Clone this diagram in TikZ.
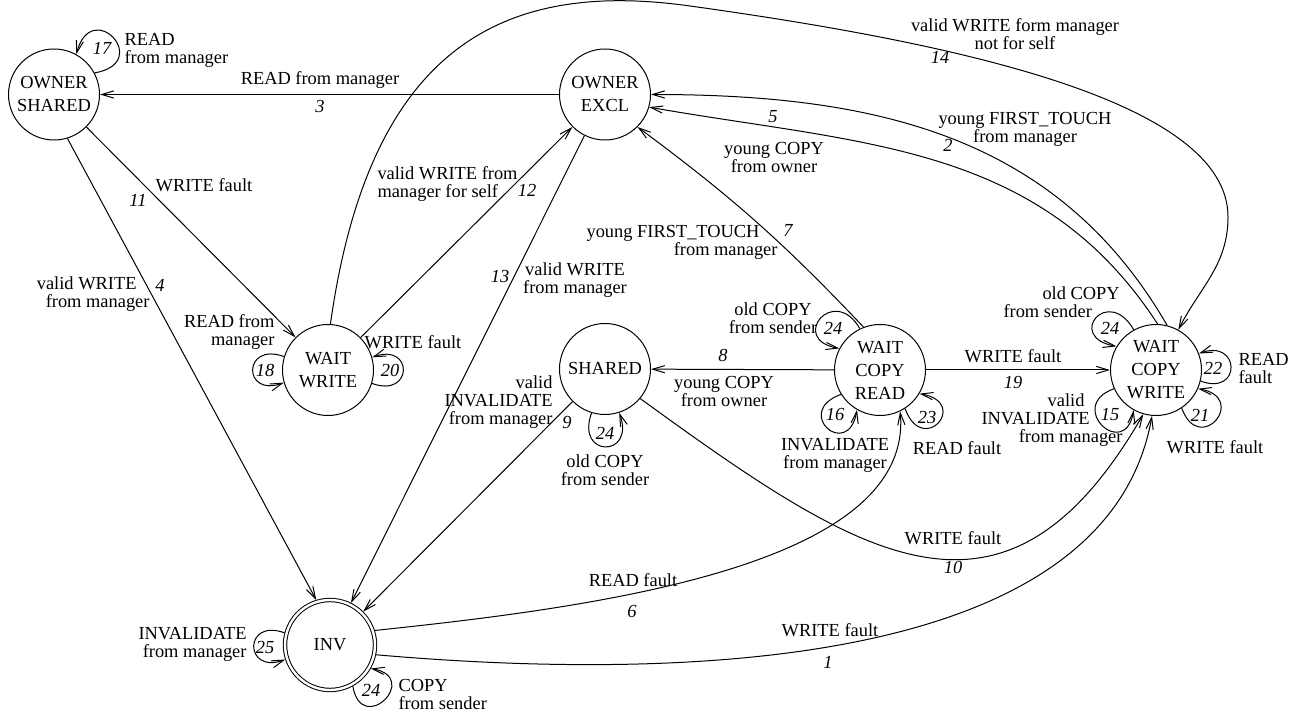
\documentclass[tikz,border=0pt]{standalone}
\usepackage{fontspec}
\setmainfont{Liberation Serif}
\usepackage{tikz}
\usetikzlibrary{arrows.meta}

\begin{document}
\begin{tikzpicture}[x=0.5pt, y=0.5pt, line width=0.5pt,
    state/.style={circle, draw, minimum size=45.5pt, inner sep=0pt, align=center,
        font=\fontsize{9.2}{11.5}\selectfont},
    arr/.style={-{Straight Barb[length=6pt, width=3.6pt]}},
    lbl/.style={inner sep=0pt, font=\fontsize{9.2}{9}\selectfont},
    num/.style={inner sep=0pt, font=\fontsize{9.2}{9}\selectfont\itshape},
    selfloop/.style={distance=24pt}]
    \useasboundingbox (0,0) rectangle (1296,717);

    % States
    \node[state] (os) at (54,622.5) {OWNER\\SHARED};
    \node[state] (oe) at (605,622.5) {OWNER\\EXCL};
    \node[state] (ww) at (328,347) {WAIT\\WRITE};
    \node[state] (sh) at (605,348) {SHARED};
    \node[state] (wcr) at (880,347) {WAIT\\COPY\\READ};
    \node[state] (wcw) at (1156,347) {WAIT\\COPY\\WRITE};
    \node[state, double, double distance=1.2pt, minimum size=45pt, outer sep=1pt] (inv) at (330,72) {INV};

    % Self loops
    \draw[arr] (os.28) to[out=10, in=75, distance=30pt] (os.61);
    \draw[arr] (ww.163) to[out=160, in=200, distance=22pt] (ww.196);
    \draw[arr] (ww.-17) to[out=-20, in=20, distance=22pt] (ww.16);
    \draw[arr] (sh.-107) to[out=-110, in=-70, selfloop] (sh.-72);
    \draw[arr] (wcr.116) to[out=120, in=170, distance=26pt] (wcr.152);
    \draw[arr] (wcr.212) to[out=200, in=260, distance=26pt] (wcr.240);
    \draw[arr] (wcr.-57) to[out=-70, in=-10, distance=26pt] (wcr.-31);
    \draw[arr] (wcw.119) to[out=120, in=170, distance=26pt] (wcw.149);
    \draw[arr] (wcw.-14) to[out=-20, in=20, distance=22pt] (wcw.21);
    \draw[arr] (wcw.-56) to[out=-70, in=-10, distance=26pt] (wcw.-24);
    \draw[arr] (wcw.204) to[out=200, in=260, distance=26pt] (wcw.241);
    \draw[arr] (inv.165) to[out=160, in=200, distance=22pt] (inv.198);
    \draw[arr] (inv.-61) to[out=-80, in=-10, distance=26pt] (inv.-30);

    % Straight transitions
    \draw[arr] (oe) -- (os);
    \draw[arr] (os) -- (ww);
    \draw[arr] (os.-73) -- (inv.107);
    \draw[arr] (ww) -- (oe);
    \draw[arr] (oe) -- (inv);
    \draw[arr] (sh) -- (inv);
    \draw[arr] (wcr) -- (sh);
    \draw[arr] (wcr) -- (wcw);

    % Curved transitions
    \coordinate (c14) at (690,711);
    \coordinate (c14r) at (1228,500);
    \draw[arr] (wcr.111) to[bend right=5] (oe.-45);
    \draw[arr] (wcw.88) to[out=123, in=-10] (oe.-16);
    \draw[arr] (wcw.76) to[out=120, in=0] (oe.0);
    \draw[arr] (ww.87) to[out=82, in=172, out looseness=1.5] (c14)
        .. controls (956,674) and (1228,616) .. (c14r)
        to[out=-90, in=63] (wcw.61);
    \draw[arr] (sh.-40) to[out=-36, in=240, looseness=1.4] (wcw.254);
    \draw[arr] (inv.18) to[out=6, in=-85, in looseness=0.7] (wcr.-64);
    \draw[arr] (inv.-12) to[out=-5, in=-100, in looseness=0.8] (wcw.265);

    % Labels
    \node[lbl] (t3) at (320,637) {READ from manager};
    \node[num] (n3) at (320,610) {3};
    \node[lbl, anchor=west, align=left] (t17) at (124,667) {READ\\from manager};
    \node[num] (n17) at (102,669) {17};
    \node[lbl] (t11) at (204,532) {WRITE fault};
    \node[num] (n11) at (138,517) {11};
    \node[lbl, anchor=east, align=right] (t4) at (150,423) {valid WRITE\hspace*{6.5pt}\\from manager};
    \node[num] (n4) at (160,432) {4};
    \node[lbl, anchor=west, align=left] (t12) at (377,533) {valid WRITE from\\manager for self};
    \node[num] (n12) at (527,527) {12};
    \node[lbl, align=center] (t13) at (575,437) {valid WRITE\\from manager};
    \node[num] (n13) at (500,440) {13};
    \node[lbl, anchor=east, align=right] (t9) at (553,315) {valid\\INVALIDATE\hspace*{-7pt}\\from manager};
    \node[num] (n9) at (567,294) {9};
    \node[lbl, align=center] (t24s) at (605,247) {old COPY\\from sender};
    \node[num] (n24s) at (605,284) {24};
    \node[lbl, align=center] (t8) at (724,325) {young COPY\\from owner};
    \node[num] (n8) at (723,362) {8};
    \node[lbl, anchor=east, align=right] (t7) at (778,475) {young FIRST\_TOUCH\hspace*{9pt}\\from manager};
    \node[num] (n7) at (788,487) {7};
    \node[lbl, align=center] (t5) at (774,559) {young COPY\\from owner};
    \node[num] (n5) at (773,600) {5};
    \node[lbl, align=center] (t2) at (1025,588) {young FIRST\_TOUCH\\from manager};
    \node[num] (n2) at (948,572) {2};
    \node[lbl, align=center] (t14) at (1015,683) {valid WRITE form manager\\not for self};
    \node[num] (n14) at (940,660) {14};
    \node[lbl, anchor=east, align=right] (t18) at (275,385) {READ from\\manager};
    \node[num] (n18) at (265,347) {18};
    \node[lbl] (t20) at (413,375) {WRITE fault};
    \node[num] (n20) at (390,347) {20};
    \node[lbl, align=center] (t24r) at (773,399) {old COPY\\from sender};
    \node[num] (n24r) at (833,389) {24};
    \node[lbl, align=center] (t16) at (835,262) {INVALIDATE\\from manager};
    \node[num] (n16) at (835,302) {16};
    \node[lbl] (t23) at (957,269) {READ fault};
    \node[num] (n23) at (927,299) {23};
    \node[lbl] (t19) at (1013,361) {WRITE fault};
    \node[num] (n19) at (1013,334) {19};
    \node[lbl, anchor=west, align=left] (t24w) at (1003,415) {\hspace*{19.5pt}old COPY\\from sender};
    \node[num] (n24w) at (1110,389) {24};
    \node[lbl, anchor=west, align=left] (t22) at (1238,348) {READ\\fault};
    \node[num] (n22) at (1213,349) {22};
    \node[lbl] (t21) at (1215,270) {WRITE fault};
    \node[num] (n21) at (1200,302) {21};
    \node[lbl, anchor=east, align=right] (t15) at (1090,297) {valid\hspace*{2.5pt}\\INVALIDATE\\from manager\hspace*{-16.5pt}};
    \node[num] (n15) at (1110,302) {15};
    \node[lbl] (t10) at (953,179) {WRITE fault};
    \node[num] (n10) at (953,150) {10};
    \node[lbl] (t6) at (633,137) {READ fault};
    \node[num] (n6) at (632,105) {6};
    \node[lbl] (t1) at (830,87) {WRITE fault};
    \node[num] (n1) at (828,55) {1};
    \node[lbl, anchor=east, align=right] (t25) at (247,73) {INVALIDATE\\from manager};
    \node[num] (n25) at (265,69) {25};
    \node[lbl, anchor=west, align=left] (t24i) at (398,22) {COPY\\from sender};
    \node[num] (n24i) at (371,27) {24};
\end{tikzpicture}
\end{document}
